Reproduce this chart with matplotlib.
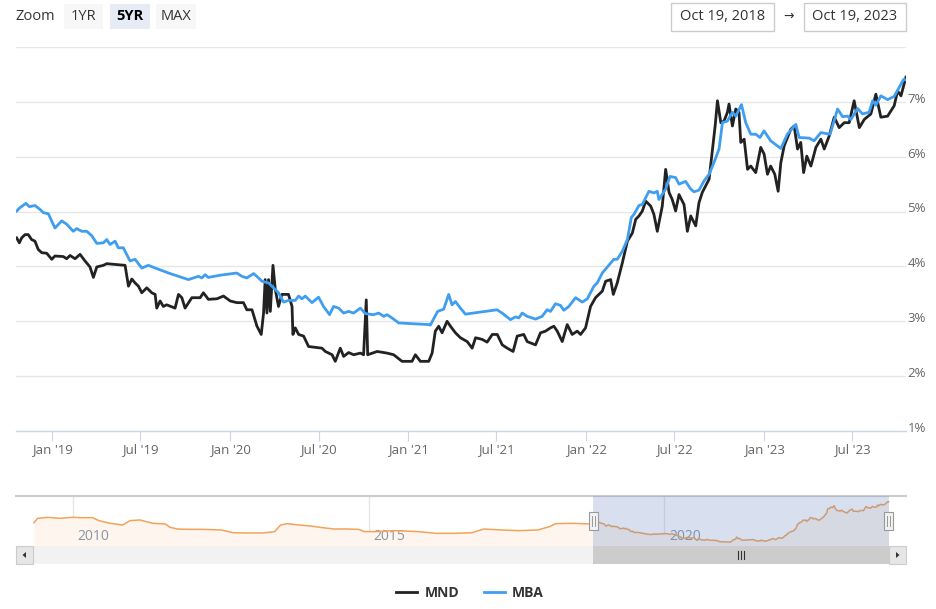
from datetime import date

import matplotlib.pyplot as plt
import matplotlib.patches as mpatches
import matplotlib.transforms as mtransforms
from matplotlib.lines import Line2D

plt.rcParams['font.family'] = ['Open Sans', 'DejaVu Sans']

# Freddie Mac / MND daily rate (decimal year, percent)
mnd_year = [2018.801, 2018.816, 2018.829, 2018.848, 2018.866, 2018.885, 2018.904, 2018.922, 2018.942, 2018.970,
            2018.998, 2019.016, 2019.063, 2019.082, 2019.101, 2019.129, 2019.157, 2019.185, 2019.213, 2019.232,
            2019.251, 2019.288, 2019.307, 2019.410, 2019.429, 2019.448, 2019.466, 2019.485, 2019.504, 2019.532,
            2019.560, 2019.579, 2019.588, 2019.607, 2019.625, 2019.644, 2019.691, 2019.710, 2019.729, 2019.747,
            2019.785, 2019.832, 2019.850, 2019.878, 2019.926, 2019.963, 2020.001, 2020.038, 2020.075, 2020.094,
            2020.123, 2020.151, 2020.175, 2020.188, 2020.197, 2020.207, 2020.216, 2020.226, 2020.241, 2020.254,
            2020.272, 2020.291, 2020.328, 2020.348, 2020.353, 2020.366, 2020.385, 2020.413, 2020.441, 2020.516,
            2020.535, 2020.573, 2020.591, 2020.619, 2020.638, 2020.666, 2020.694, 2020.732, 2020.750, 2020.765,
            2020.773, 2020.826, 2020.882, 2020.919, 2020.966, 2021.022, 2021.041, 2021.069, 2021.116, 2021.135,
            2021.153, 2021.172, 2021.191, 2021.219, 2021.238, 2021.266, 2021.294, 2021.332, 2021.360, 2021.379,
            2021.416, 2021.444, 2021.473, 2021.501, 2021.529, 2021.557, 2021.590, 2021.613, 2021.650, 2021.669,
            2021.716, 2021.744, 2021.772, 2021.800, 2021.819, 2021.838, 2021.866, 2021.894, 2021.922, 2021.950,
            2021.969, 2021.997, 2022.025, 2022.053, 2022.091, 2022.110, 2022.138, 2022.153, 2022.175, 2022.204,
            2022.232, 2022.260, 2022.279, 2022.297, 2022.316, 2022.335, 2022.363, 2022.381, 2022.400, 2022.419,
            2022.428, 2022.447, 2022.466, 2022.484, 2022.503, 2022.522, 2022.550, 2022.569, 2022.588, 2022.616,
            2022.634, 2022.653, 2022.672, 2022.691, 2022.710, 2022.725, 2022.738, 2022.757, 2022.775, 2022.794,
            2022.803, 2022.822, 2022.841, 2022.859, 2022.869, 2022.888, 2022.907, 2022.925, 2022.953, 2022.981,
            2023.000, 2023.019, 2023.037, 2023.060, 2023.079, 2023.094, 2023.113, 2023.150, 2023.169, 2023.188,
            2023.206, 2023.222, 2023.240, 2023.263, 2023.291, 2023.319, 2023.338, 2023.366, 2023.394, 2023.422,
            2023.450, 2023.478, 2023.506, 2023.535, 2023.563, 2023.600, 2023.628, 2023.656, 2023.694, 2023.731,
            2023.750, 2023.769, 2023.784, 2023.797]
mnd_rate = [4.52, 4.43, 4.52, 4.58, 4.58, 4.49, 4.46, 4.31, 4.25, 4.24,
            4.13, 4.19, 4.18, 4.14, 4.20, 4.14, 4.22, 4.10, 3.99, 3.80,
            3.99, 4.02, 4.05, 4.02, 3.64, 3.77, 3.70, 3.64, 3.52, 3.61,
            3.52, 3.49, 3.24, 3.37, 3.27, 3.30, 3.24, 3.49, 3.43, 3.24,
            3.43, 3.43, 3.52, 3.40, 3.41, 3.46, 3.37, 3.34, 3.34, 3.21,
            3.21, 2.91, 2.76, 3.15, 3.76, 3.15, 3.76, 3.18, 4.02, 3.58,
            3.27, 3.49, 3.49, 3.27, 2.76, 2.88, 2.76, 2.73, 2.54, 2.51,
            2.45, 2.39, 2.27, 2.51, 2.36, 2.43, 2.39, 2.42, 2.39, 3.39,
            2.39, 2.45, 2.42, 2.39, 2.27, 2.27, 2.39, 2.27, 2.27, 2.42,
            2.82, 2.91, 2.79, 3.00, 2.91, 2.79, 2.70, 2.63, 2.51, 2.70,
            2.67, 2.62, 2.76, 2.76, 2.57, 2.51, 2.45, 2.73, 2.76, 2.63,
            2.57, 2.79, 2.82, 2.88, 2.91, 2.82, 2.63, 2.94, 2.76, 2.82,
            2.76, 2.88, 3.27, 3.43, 3.55, 3.73, 3.76, 3.49, 3.70, 4.07,
            4.46, 4.61, 4.86, 4.92, 5.01, 5.19, 5.10, 4.95, 4.64, 4.95,
            5.10, 5.77, 5.35, 5.22, 5.01, 5.31, 5.13, 4.64, 4.92, 4.74,
            5.16, 5.35, 5.47, 5.59, 6.14, 6.56, 7.02, 6.62, 6.65, 6.81,
            6.96, 6.56, 6.87, 6.81, 6.26, 6.32, 5.77, 5.83, 5.71, 6.17,
            6.05, 5.68, 5.83, 5.68, 5.37, 5.89, 6.20, 6.50, 6.56, 6.14,
            6.26, 5.71, 6.01, 5.83, 6.17, 6.32, 6.14, 6.38, 6.72, 6.53,
            6.62, 6.62, 7.02, 6.53, 6.68, 6.78, 7.14, 6.72, 6.74, 6.93,
            7.20, 7.11, 7.29, 7.45]

# MBA weekly contract rate (decimal year, percent)
mba_year = [2018.801, 2018.819, 2018.853, 2018.872, 2018.904, 2018.932, 2018.951, 2018.979, 2019.016, 2019.054,
            2019.082, 2019.119, 2019.138, 2019.167, 2019.195, 2019.223, 2019.251, 2019.288, 2019.307, 2019.326,
            2019.354, 2019.372, 2019.400, 2019.438, 2019.466, 2019.504, 2019.541, 2019.588, 2019.663, 2019.766,
            2019.822, 2019.841, 2019.860, 2019.878, 2019.944, 2020.038, 2020.066, 2020.094, 2020.132, 2020.160,
            2020.179, 2020.216, 2020.244, 2020.272, 2020.300, 2020.328, 2020.366, 2020.385, 2020.404, 2020.422,
            2020.460, 2020.497, 2020.525, 2020.559, 2020.581, 2020.610, 2020.638, 2020.666, 2020.694, 2020.732,
            2020.760, 2020.806, 2020.835, 2020.863, 2020.882, 2020.910, 2020.947, 2021.116, 2021.125, 2021.166,
            2021.200, 2021.228, 2021.247, 2021.266, 2021.294, 2021.322, 2021.500, 2021.528, 2021.575, 2021.603,
            2021.622, 2021.641, 2021.669, 2021.716, 2021.753, 2021.781, 2021.800, 2021.828, 2021.856, 2021.875,
            2021.903, 2021.941, 2021.979, 2022.007, 2022.044, 2022.063, 2022.091, 2022.156, 2022.175, 2022.204,
            2022.232, 2022.254, 2022.269, 2022.297, 2022.316, 2022.353, 2022.381, 2022.400, 2022.409, 2022.447,
            2022.471, 2022.503, 2022.522, 2022.559, 2022.588, 2022.606, 2022.634, 2022.663, 2022.691, 2022.719,
            2022.747, 2022.766, 2022.794, 2022.822, 2022.841, 2022.873, 2022.897, 2022.925, 2022.953, 2022.977,
            2023.000, 2023.037, 2023.094, 2023.131, 2023.178, 2023.197, 2023.253, 2023.281, 2023.319, 2023.371,
            2023.413, 2023.441, 2023.469, 2023.488, 2023.525, 2023.553, 2023.590, 2023.610, 2023.628, 2023.656,
            2023.694, 2023.731, 2023.784, 2023.797]
mba_rate = [5.01, 5.07, 5.15, 5.09, 5.11, 5.04, 4.98, 4.96, 4.70, 4.83,
            4.77, 4.64, 4.69, 4.64, 4.64, 4.56, 4.42, 4.43, 4.49, 4.40,
            4.46, 4.34, 4.34, 4.10, 4.13, 3.97, 4.02, 3.96, 3.87, 3.76,
            3.82, 3.79, 3.85, 3.80, 3.84, 3.88, 3.82, 3.79, 3.87, 3.79,
            3.73, 3.70, 3.61, 3.52, 3.35, 3.38, 3.38, 3.46, 3.41, 3.46,
            3.34, 3.44, 3.27, 3.12, 3.27, 3.24, 3.15, 3.18, 3.15, 3.24,
            3.14, 3.12, 3.15, 3.09, 3.12, 3.06, 2.97, 2.94, 2.93, 3.18,
            3.22, 3.49, 3.30, 3.36, 3.24, 3.13, 3.21, 3.15, 3.03, 3.08,
            3.06, 3.15, 3.09, 3.04, 3.09, 3.21, 3.18, 3.32, 3.29, 3.20,
            3.27, 3.43, 3.35, 3.41, 3.64, 3.70, 3.88, 4.13, 4.13, 4.28,
            4.49, 4.89, 4.95, 5.11, 5.13, 5.37, 5.34, 5.37, 5.22, 5.41,
            5.64, 5.62, 5.50, 5.55, 5.41, 5.36, 5.39, 5.56, 5.68, 5.90,
            6.14, 6.62, 6.65, 6.81, 6.74, 6.95, 6.62, 6.41, 6.41, 6.35,
            6.47, 6.29, 6.15, 6.41, 6.59, 6.35, 6.34, 6.29, 6.44, 6.41,
            6.87, 6.73, 6.74, 6.68, 6.88, 6.78, 6.81, 7.02, 6.94, 7.11,
            7.04, 7.10, 7.41, 7.40]

# earlier history shown only in the navigator
hist_year = [2009.34, 2009.40, 2009.58, 2009.78, 2009.98, 2010.18, 2010.33, 2010.44, 2010.63, 2010.84,
             2010.96, 2011.13, 2011.35, 2011.56, 2011.64, 2011.76, 2011.95, 2012.20, 2012.51, 2012.71,
             2012.91, 2013.21, 2013.41, 2013.51, 2013.62, 2013.82, 2014.02, 2014.22, 2014.42, 2014.62,
             2014.83, 2014.93, 2015.13, 2015.43, 2015.84, 2016.14, 2016.44, 2016.75, 2016.95, 2017.25,
             2017.55, 2017.86, 2018.06, 2018.16, 2018.46, 2018.76]
hist_rate = [5.08, 5.56, 5.67, 5.56, 5.67, 5.63, 5.64, 5.30, 5.01, 4.82,
             5.30, 5.38, 5.01, 4.93, 4.57, 4.38, 4.34, 4.34, 4.27, 3.97,
             3.94, 3.94, 4.09, 4.82, 4.97, 4.82, 4.71, 4.53, 4.38, 4.38,
             4.34, 4.09, 4.09, 4.20, 4.09, 3.90, 3.90, 3.97, 4.38, 4.27,
             4.20, 4.27, 4.64, 4.97, 5.01, 4.93]

range_start = date(2018, 10, 19)
range_end = date(2023, 10, 19)
tick_months = [(y, m) for y in range(2019, 2024) for m in (1, 7)]
rate_ticks = [1, 2, 3, 4, 5, 6, 7, 8]
nav_years = [2010, 2015, 2020]


def dec_year(d):
    y0 = date(d.year, 1, 1)
    return d.year + (d - y0).days / (date(d.year + 1, 1, 1) - y0).days


W, H = 936, 609
fig = plt.figure(figsize=(W / 100, H / 100), dpi=100)


def box(l, t, r, b):
    return [l / W, 1 - b / H, (r - l) / W, (b - t) / H]


x0, x1 = dec_year(range_start), dec_year(range_end)

# main chart
ax = fig.add_axes(box(16, 47, 906, 431))
ax.plot(mnd_year, mnd_rate, color='#222222', lw=2, solid_joinstyle='round', zorder=3)
ax.plot(mba_year, mba_rate, color='#3f9ef0', lw=2, solid_joinstyle='round', zorder=4)
ax.set_xlim(x0, x1)
ax.set_ylim(rate_ticks[0], rate_ticks[-1])
ax.set_yticks(rate_ticks)
ax.set_yticklabels([f'{v}%' for v in rate_ticks[:-1]] + [''])
ax.yaxis.tick_right()
ax.tick_params(axis='y', length=0, pad=1, labelsize=9.5, labelcolor='#666666')
ax.grid(axis='y', color='#e6e6e6', lw=1)
ax.set_axisbelow(True)
for s in ['top', 'left', 'right']:
    ax.spines[s].set_visible(False)
ax.spines['bottom'].set_color('#ccd6eb')
ax.spines['bottom'].set_linewidth(1)
ax.set_xticks([dec_year(date(y, m, 1)) for y, m in tick_months])
ax.set_xticklabels([date(y, m, 1).strftime("%b '%y") for y, m in tick_months])
ax.tick_params(axis='x', length=7, width=0.8, color='#ccd6eb', pad=2,
               labelsize=9.5, labelcolor='#666666')
shift = mtransforms.ScaledTranslation(0, 3 / 72, fig.dpi_scale_trans)
for lab in ax.get_yticklabels():
    lab.set_transform(lab.get_transform() + shift)

# navigator
nav = fig.add_axes(box(16, 496, 906, 546))
nav_x = hist_year + mba_year
nav_y = hist_rate + mba_rate
nav_lo, nav_hi = 2.5, 8.03
nav.fill_between(nav_x, nav_y, nav_lo, color='#fef6ee', lw=0, zorder=1)
nav.plot(nav_x, nav_y, color='#f0a35a', lw=1.1, zorder=3)
nav.set_xlim(2009.035, 2024.09)
nav.set_ylim(nav_lo, nav_hi)
for yr in nav_years:
    nav.axvline(yr, color='#e6e6e6', lw=1, zorder=0)
    nav.text(yr + 0.08, 0.2, str(yr), transform=nav.get_xaxis_transform(),
             ha='left', va='center', fontsize=10, color='#8a94a6', zorder=2)
nav.axvspan(x0, x1, color=(102 / 255, 133 / 255, 194 / 255, 0.25), lw=0, zorder=4)
nav.plot([0, 1], [1, 1], transform=nav.transAxes, color='#cccccc', lw=1.5, clip_on=False)
nav.axis('off')

# range selector, scrollbar, handles (pixel space overlay)
ui = fig.add_axes([0, 0, 1, 1], zorder=10)
ui.set_xlim(0, W)
ui.set_ylim(H, 0)
ui.axis('off')
ui.patch.set_alpha(0)


def nav_px(yr):
    lo, hi = nav.get_xlim()
    return 16 + (yr - lo) / (hi - lo) * 890


sx0, sx1 = nav_px(x0), nav_px(x1)

ui.add_patch(mpatches.Rectangle((16, 546), 890, 18, fc='#f2f2f2', ec='none'))
ui.add_patch(mpatches.Rectangle((sx0, 546), sx1 - sx0, 18, fc='#cccccc', ec='none'))
cx = (sx0 + sx1) / 2
for dx in (-3, 0, 3):
    ui.plot([cx + dx, cx + dx], [551, 559], color='#333333', lw=0.8)
for bx, pts in [(16, [(22.5, 555), (26, 552), (26, 558)]),
                (889, [(899.5, 555), (896, 552), (896, 558)])]:
    ui.add_patch(mpatches.Rectangle((bx, 546), 17, 18, fc='#e6e6e6', ec='#cccccc', lw=0.8))
    ui.add_patch(mpatches.Polygon(pts, closed=True, fc='#333333', ec='none'))

for hx in (sx0, sx1):
    ui.add_patch(mpatches.Rectangle((hx - 4.5, 511.5), 9, 18, fc='#f2f2f2', ec='#999999', lw=0.8))
    for dx in (-1.5, 1.5):
        ui.plot([hx + dx, hx + dx], [515.5, 525.5], color='#999999', lw=0.7)

ui.text(16, 16.5, 'Zoom', ha='left', va='center', fontsize=10.5, color='#333333')
for label, l, r, sel in [('1YR', 64, 103, False), ('5YR', 110, 150, True), ('MAX', 156, 196, False)]:
    ui.add_patch(mpatches.Rectangle((l, 4), r - l, 25, fc='#e6ebf5' if sel else '#f7f7f7', ec='none'))
    ui.text((l + r) / 2, 16.5, label, ha='center', va='center', fontsize=10.5,
            color='#000000' if sel else '#333333', weight='bold' if sel else 'normal')

for d, l, r in [(range_start, 671, 774), (range_end, 804, 906)]:
    ui.add_patch(mpatches.Rectangle((l, 3), r - l, 28, fc='white', ec='#cccccc', lw=1))
    ui.text((l + r) / 2, 16.5, d.strftime('%b %d, %Y'), ha='center', va='center',
            fontsize=10.5, color='#333333')
ui.text(789, 16.5, '\u2192', ha='center', va='center', fontsize=9, color='#333333')

handles = [Line2D([], [], color='#222222', lw=2), Line2D([], [], color='#3f9ef0', lw=2)]
fig.legend(handles, ['MND', 'MBA'], loc='center', bbox_to_anchor=(470 / W, 1 - 593 / H), ncol=2,
           frameon=False, prop={'weight': 'bold', 'size': 10}, labelcolor='#333333',
           handlelength=1.5, handletextpad=0.5, columnspacing=1.8)

fig.savefig('out.png', dpi=100)
